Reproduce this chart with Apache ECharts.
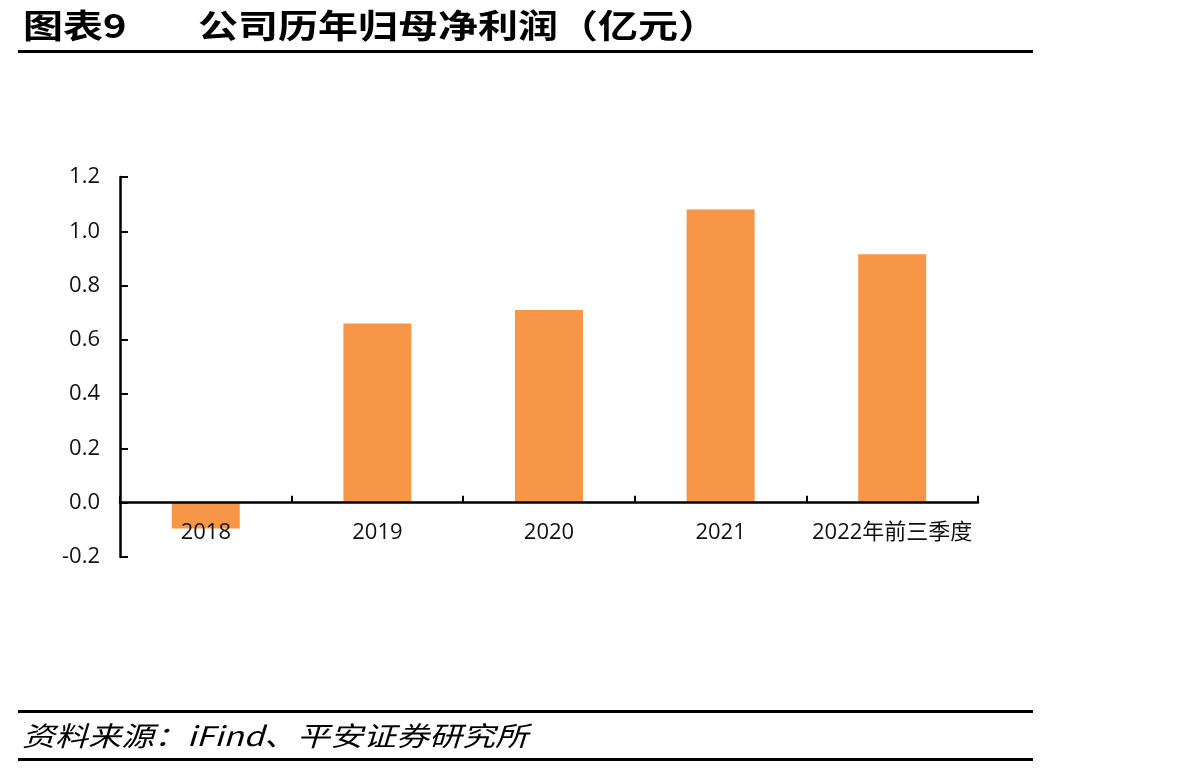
<!DOCTYPE html>
<html>
<head>
<meta charset="utf-8">
<script src="https://cdn.jsdelivr.net/npm/echarts@6/dist/echarts.min.js"></script>
<style>
  html, body { margin: 0; padding: 0; background: #fff; }
  #main { width: 1195px; height: 768px; }
</style>
</head>
<body>
<div id="main"></div>
<script type="text/javascript">
    // 数据
    var categories = ['2018', '2019', '2020', '2021', '2022年前三季度'];
    var profit = [-0.095, 0.66, 0.71, 1.08, 0.915];
    var yTicks = { min: -0.2, max: 1.2, step: 0.2 };

    var cjk = "'Noto Sans CJK SC', 'Liberation Sans', sans-serif";
    var num = "'Open Sans', 'Noto Sans CJK SC', sans-serif";

    var myChart = echarts.init(document.getElementById('main'));

    myChart.setOption({
        animation: false,
        backgroundColor: '#fff',
        graphic: [
            { type: 'text', x: 23, y: 26, scaleY: 0.82,
              style: { text: '图表9', font: 'bold 40px ' + cjk, fill: '#000', verticalAlign: 'middle' } },
            { type: 'text', x: 198, y: 26, scaleY: 0.82,
              style: { text: '公司历年归母净利润（亿元）', font: 'bold 40px ' + cjk, fill: '#000', verticalAlign: 'middle' } },
            { type: 'rect', shape: { x: 18, y: 50, width: 1015, height: 3 }, style: { fill: '#000' } },
            { type: 'rect', shape: { x: 18, y: 710, width: 1015, height: 3 }, style: { fill: '#000' } },
            { type: 'text', x: 22, y: 736, scaleY: 0.82,
              style: { text: '资料来源：iFind、平安证券研究所', font: 'italic 33px ' + cjk, fill: '#000', verticalAlign: 'middle' } },
            { type: 'rect', shape: { x: 18, y: 758, width: 1015, height: 3 }, style: { fill: '#000' } }
        ],
        grid: { left: 120, right: 217, top: 177, bottom: 211, containLabel: false },
        xAxis: {
            type: 'category',
            data: categories,
            z: 5,
            boundaryGap: true,
            axisLine: { onZero: true, lineStyle: { color: '#000', width: 2.5 } },
            axisTick: { show: true, inside: true, length: 7, lineStyle: { color: '#000', width: 2 } },
            axisLabel: { color: '#111', fontSize: 22, fontFamily: num, margin: -35, interval: 0 },
            splitLine: { show: false }
        },
        yAxis: {
            type: 'value',
            min: yTicks.min,
            max: yTicks.max,
            interval: yTicks.step,
            axisLine: { show: true, lineStyle: { color: '#000', width: 2.5 } },
            axisTick: { show: true, inside: true, length: 8, lineStyle: { color: '#000', width: 2 } },
            axisLabel: {
                color: '#111', fontSize: 22, fontFamily: num, margin: 20,
                formatter: function (v) { return v.toFixed(1); }
            },
            splitLine: { show: false }
        },
        series: [{
            name: '归母净利润',
            type: 'bar',
            data: profit,
            barWidth: 68,
            itemStyle: { color: '#F79646' }
        }]
    });
</script>
</body>
</html>
